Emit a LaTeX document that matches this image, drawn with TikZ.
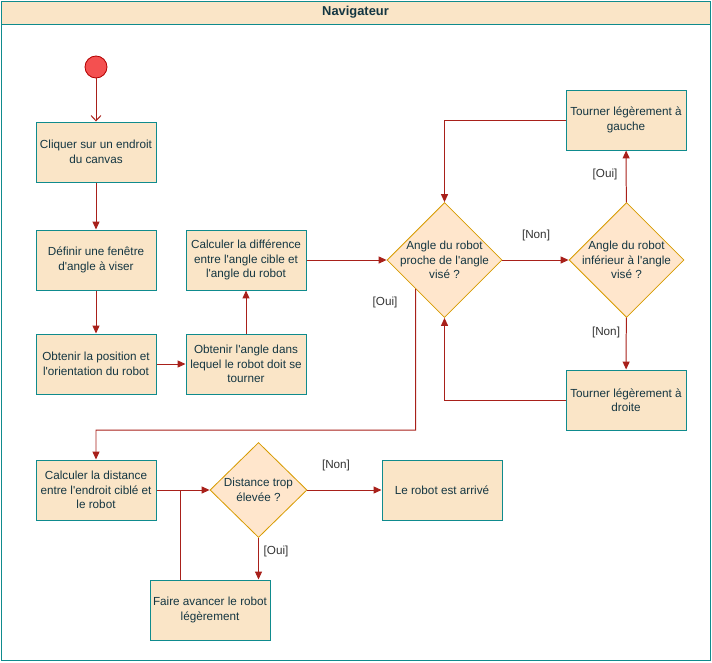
\documentclass[tikz,border=0pt]{standalone}
\usepackage{fontspec}
\setmainfont{Liberation Sans}[Ligatures=TeXOff]
\usetikzlibrary{shapes.geometric,arrows.meta}
\definecolor{fond}{HTML}{FAE5C7}
\definecolor{bord}{HTML}{0F8B8D}
\definecolor{fondlos}{HTML}{FFE6CC}
\definecolor{bordlos}{HTML}{D79B00}
\definecolor{trait}{HTML}{A8201A}
\definecolor{texte}{HTML}{143642}
\definecolor{debut}{HTML}{F45050}
\definecolor{rougefonce}{HTML}{B20000}

\begin{document}
\begin{tikzpicture}[x=0.03cm,y=-0.03cm,
	every node/.style={font=\fontsize{10}{12.3}\selectfont,text=texte,align=center},
	boite/.style={draw=bord,fill=fond,line width=0.85pt,minimum width=3.6cm,minimum height=1.8cm,inner sep=1pt},
	losange/.style={diamond,draw=bordlos,fill=fondlos,line width=0.7pt,minimum width=3.45cm,minimum height=3.45cm,inner sep=0pt},
	petitlosange/.style={losange,minimum width=2.91cm,minimum height=2.85cm},
	depart/.style={circle,draw=rougefonce,fill=debut,line width=0.7pt,minimum size=0.66cm,inner sep=0pt},
	fleche/.style={draw=trait,line width=0.85pt,-{Triangle[length=6.8pt,width=6pt]}},
	ouvert/.style={draw=trait,line width=0.85pt,-{Straight Barb[length=4.5pt,width=8.5pt]}},
	ligne/.style={draw=trait,line width=0.85pt},
	garde/.style={text=black!80}]
		\useasboundingbox (0,0) rectangle (712,662);
		\draw[bord,line width=0.85pt,fill=fond] (1,1) rectangle (710,24);
		\draw[bord,line width=0.85pt] (1,1) rectangle (710,660);
		\node[font=\fontsize{11}{12}\selectfont\bfseries] (titre) at (355.5,12.5) {Navigateur};
		\node[depart] (debut) at (96,67) {};
		\node[boite] (cliquer) at (96,152) {Cliquer sur un endroit\\du canvas};
		\node[boite] (fenetre) at (96,260) {Définir une fenêtre\\d'angle à viser};
		\node[boite] (position) at (96,364) {Obtenir la position et\\l'orientation du robot};
		\node[boite] (tourner) at (246,364) {Obtenir l'angle dans\\lequel le robot doit se\\tourner};
		\node[boite] (difference) at (246,260) {Calculer la différence\\entre l'angle cible et\\l'angle du robot};
		\node[losange,label={center:Angle du robot\\proche de l'angle\\visé ?}] (proche) at (444.5,260) {};
		\node[losange,label={center:Angle du robot\\inférieur à l'angle\\visé ?}] (inferieur) at (626.5,260) {};
		\node[boite] (gauche) at (626,120) {Tourner légèrement à\\gauche};
		\node[boite] (droite) at (626,400) {Tourner légèrement à\\droite};
		\node[boite] (distance) at (96,490) {Calculer la distance\\entre l'endroit ciblé et\\le robot};
		\node[petitlosange,label={center:Distance trop\\élevée ?}] (elevee) at (258.5,490) {};
		\node[boite] (avancer) at (210,610) {Faire avancer le robot\\légèrement};
		\node[boite] (arrive) at (442,490) {Le robot est arrivé};
		\coordinate (coude) at (415.5,430);
		\coordinate (retour) at (180,490);
		\draw[ouvert] (debut) -- (cliquer);
		\draw[fleche] (cliquer) -- (fenetre);
		\draw[fleche] (fenetre) -- (position);
		\draw[fleche] (position) -- (tourner);
		\draw[fleche] (tourner) -- (difference);
		\draw[fleche] (difference) -- (proche);
		\draw[fleche] (proche) -- (inferieur);
		\draw[fleche] (inferieur) -- (gauche);
		\draw[fleche] (inferieur) -- (droite);
		\draw[fleche] (gauche.west) -| (proche.north);
		\draw[fleche] (droite.west) -| (proche.south);
		\draw[fleche] (proche.south west) -- (coude) -| (distance.north);
		\draw[fleche] (distance) -- (elevee);
		\draw[fleche] (elevee) -- (arrive);
		\draw[fleche] (elevee.south) -- (elevee.south |- avancer.north);
		\draw[ligne] (avancer.north -| retour) -- (retour);
		\node[garde] (non1) at (536,235) {[Non]};
		\node[garde] (oui1) at (605,174) {[Oui]};
		\node[garde] (non2) at (606,332) {[Non]};
		\node[garde] (oui2) at (385,302) {[Oui]};
		\node[garde] (non3) at (336,465) {[Non]};
		\node[garde] (oui3) at (276,551) {[Oui]};
\end{tikzpicture}
\end{document}
